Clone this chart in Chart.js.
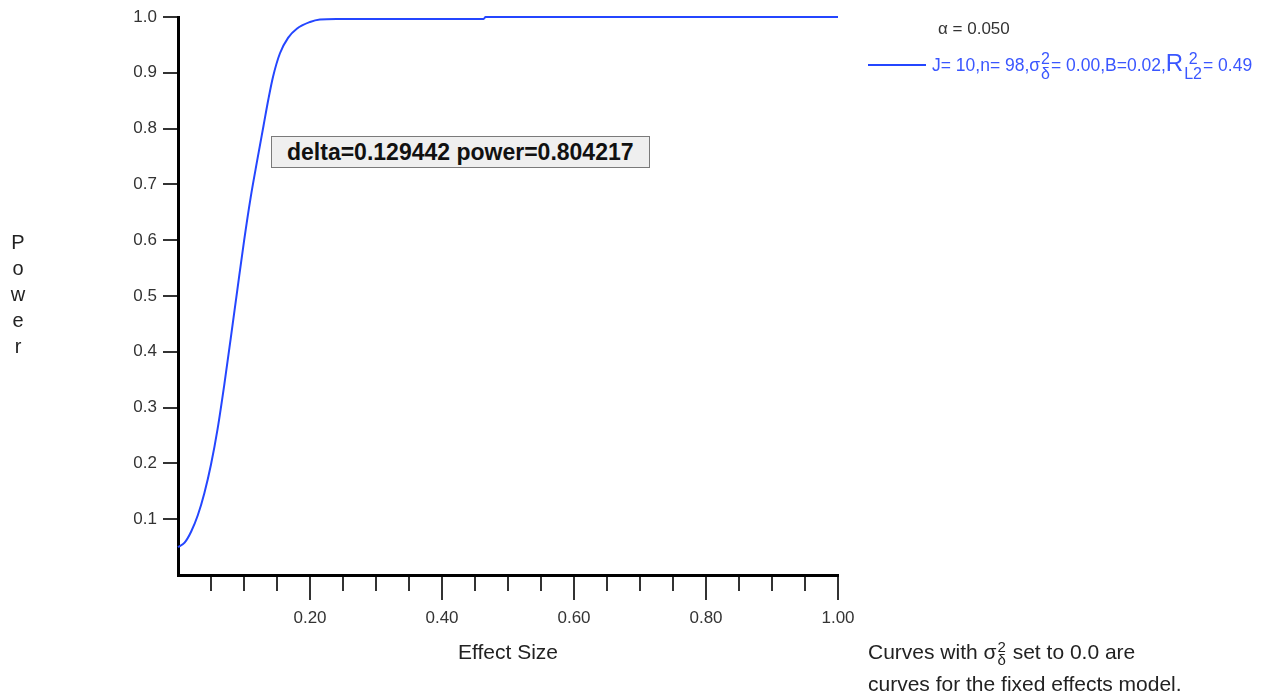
<!DOCTYPE html>
<html>
<head>
<meta charset="utf-8">
<title>Power vs Effect Size</title>
<script src="https://cdn.jsdelivr.net/npm/chart.js@4.4.1/dist/chart.umd.min.js"></script>
<style>
  html, body { margin: 0; padding: 0; background: #fff; }
  #wrap { position: relative; width: 1273px; height: 698px; font-family: Arial, "Liberation Sans", sans-serif; color: #222; }
  #chart { position: absolute; left: 0; top: 0; }
  .ytitle { position: absolute; left: 8px; top: 229px; width: 20px; text-align: center; font-size: 20px; line-height: 26px; }
  .alpha { position: absolute; left: 938px; top: 19px; font-size: 17px; line-height: 20px; color: #333; }
  .legend-row { position: absolute; left: 868px; top: 49px; height: 32px; display: flex; align-items: center; white-space: nowrap; }
  .swatch { display: inline-block; width: 58px; height: 2px; background: #2446ff; margin-right: 6px; }
  .ltext { font-size: 17.5px; color: #3a56ff; }
  .ss { display: inline-flex; flex-direction: column; vertical-align: middle; font-size: 16px; line-height: 15px; text-align: center; margin: 0 1px; }
  .bigR { font-size: 24px; }
  .note { position: absolute; white-space: nowrap; background: #efefef; border: 1px solid #7a7a7a; font-weight: bold; font-size: 23px; line-height: 30px; padding: 0 15px; color: #111; }
  .foot { position: absolute; left: 868px; top: 636px; font-size: 21px; line-height: 32px; color: #222; }
  .foot .ss { font-size: 15px; line-height: 13px; }
</style>
</head>
<body>
<div id="wrap">
  <canvas id="chart" width="1273" height="698"></canvas>
  <div class="ytitle">P<br>o<br>w<br>e<br>r</div>
  <div class="alpha" id="alpha"></div>
  <div class="legend-row"><span class="swatch"></span><span class="ltext">J= 10,n= 98,σ<span class="ss"><span>2</span><span>δ</span></span>= 0.00,B=0.02,<span class="bigR">R</span><span class="ss"><span>2</span><span>L2</span></span>= 0.49</span></div>
  <div class="note" id="note"></div>
  <div class="foot">Curves with σ<span class="ss"><span>2</span><span>δ</span></span> set to 0.0 are<br>curves for the fixed effects model.</div>
</div>
<script>
// power curve read along the effect size axis
const effectSize = [0, 0.010, 0.020, 0.030, 0.040, 0.050, 0.060, 0.070, 0.080, 0.090,
                    0.100, 0.110, 0.120, 0.129442, 0.137, 0.144, 0.1545, 0.167, 0.180, 0.200,
                    0.215, 0.240, 0.300, 0.400, 0.463, 0.466, 0.600, 0.800, 1.000];
const power = [0.050, 0.058, 0.078, 0.107, 0.147, 0.198, 0.262, 0.340, 0.425, 0.512,
               0.598, 0.676, 0.743, 0.804217, 0.853, 0.893, 0.935, 0.963, 0.979, 0.991,
               0.9955, 0.9965, 0.9965, 0.9965, 0.9965, 1.000, 1.000, 1.000, 1.000];

// marked point shown in the box
const markDelta = 0.129442;
const markPower = 0.804217;
const alpha = 0.050;

const xMajorTicks = [0.2, 0.4, 0.6, 0.8, 1.0];
const xMinorStep = 0.05;
const yStep = 0.1;

const FONT = 'Arial, "Liberation Sans", sans-serif';
const LINE_BLUE = '#2446ff';

document.getElementById('alpha').textContent = 'α = ' + alpha.toFixed(3);
document.getElementById('note').textContent = 'delta=' + markDelta.toFixed(6) + ' power=' + markPower.toFixed(6);

const isMajor = v => v > 0 && xMajorTicks.some(m => Math.abs(m - v) < 1e-6);

// longer ticks at the labelled effect sizes
const majorTickMarks = {
    id: 'majorTickMarks',
    afterDraw(chart) {
        const sx = chart.scales.x;
        const c = chart.ctx;
        c.save();
        c.strokeStyle = '#333';
        c.lineWidth = 2;
        xMajorTicks.forEach(v => {
            const px = Math.round(sx.getPixelForValue(v));
            c.beginPath();
            c.moveTo(px, sx.top + 12);
            c.lineTo(px, sx.top + 25);
            c.stroke();
        });
        c.restore();
    }
};

// keep the value box just below-right of its point
const notePlacer = {
    id: 'notePlacer',
    afterRender(chart) {
        const px = chart.scales.x.getPixelForValue(markDelta);
        const py = chart.scales.y.getPixelForValue(markPower);
        const el = document.getElementById('note');
        el.style.left = Math.round(px + 8) + 'px';
        el.style.top = Math.round(py + 10) + 'px';
    }
};

new Chart(document.getElementById('chart'), {
    type: 'line',
    data: {
        datasets: [{
            label: 'J= 10,n= 98',
            data: effectSize.map((x, i) => ({ x: x, y: power[i] })),
            borderColor: LINE_BLUE,
            borderWidth: 2,
            pointRadius: 0,
            fill: false,
            clip: false,
            cubicInterpolationMode: 'monotone'
        }]
    },
    options: {
        responsive: false,
        animation: false,
        layout: { padding: { left: 0, top: 17, right: 435, bottom: 0 } },
        plugins: { legend: { display: false }, tooltip: { enabled: false } },
        scales: {
            x: {
                type: 'linear',
                min: 0,
                max: 1,
                afterFit: s => { s.height = 123; },
                border: { display: true, color: '#000', width: 3 },
                grid: {
                    drawOnChartArea: false,
                    drawTicks: true,
                    tickLength: 16,
                    lineWidth: 2,
                    color: ctx => (ctx.tick && ctx.tick.value === 0) ? 'rgba(0,0,0,0)' : '#333'
                },
                ticks: {
                    stepSize: xMinorStep,
                    autoSkip: false,
                    maxRotation: 0,
                    padding: 17,
                    color: '#333',
                    font: { size: 17, family: FONT },
                    callback: v => isMajor(v) ? v.toFixed(2) : ''
                },
                title: {
                    display: true,
                    text: 'Effect Size',
                    color: '#222',
                    font: { size: 21, family: FONT },
                    padding: { top: 0, bottom: 32 }
                }
            },
            y: {
                min: 0,
                max: 1,
                afterFit: s => { s.width = 178; },
                border: { display: true, color: '#000', width: 3 },
                grid: {
                    drawOnChartArea: false,
                    drawTicks: true,
                    tickLength: 15,
                    lineWidth: 2,
                    color: ctx => (ctx.tick && ctx.tick.value === 0) ? 'rgba(0,0,0,0)' : '#333'
                },
                ticks: {
                    stepSize: yStep,
                    padding: 6,
                    color: '#333',
                    font: { size: 17, family: FONT },
                    callback: v => v === 0 ? '' : v.toFixed(1)
                }
            }
        }
    },
    plugins: [majorTickMarks, notePlacer]
});
</script>
</body>
</html>
